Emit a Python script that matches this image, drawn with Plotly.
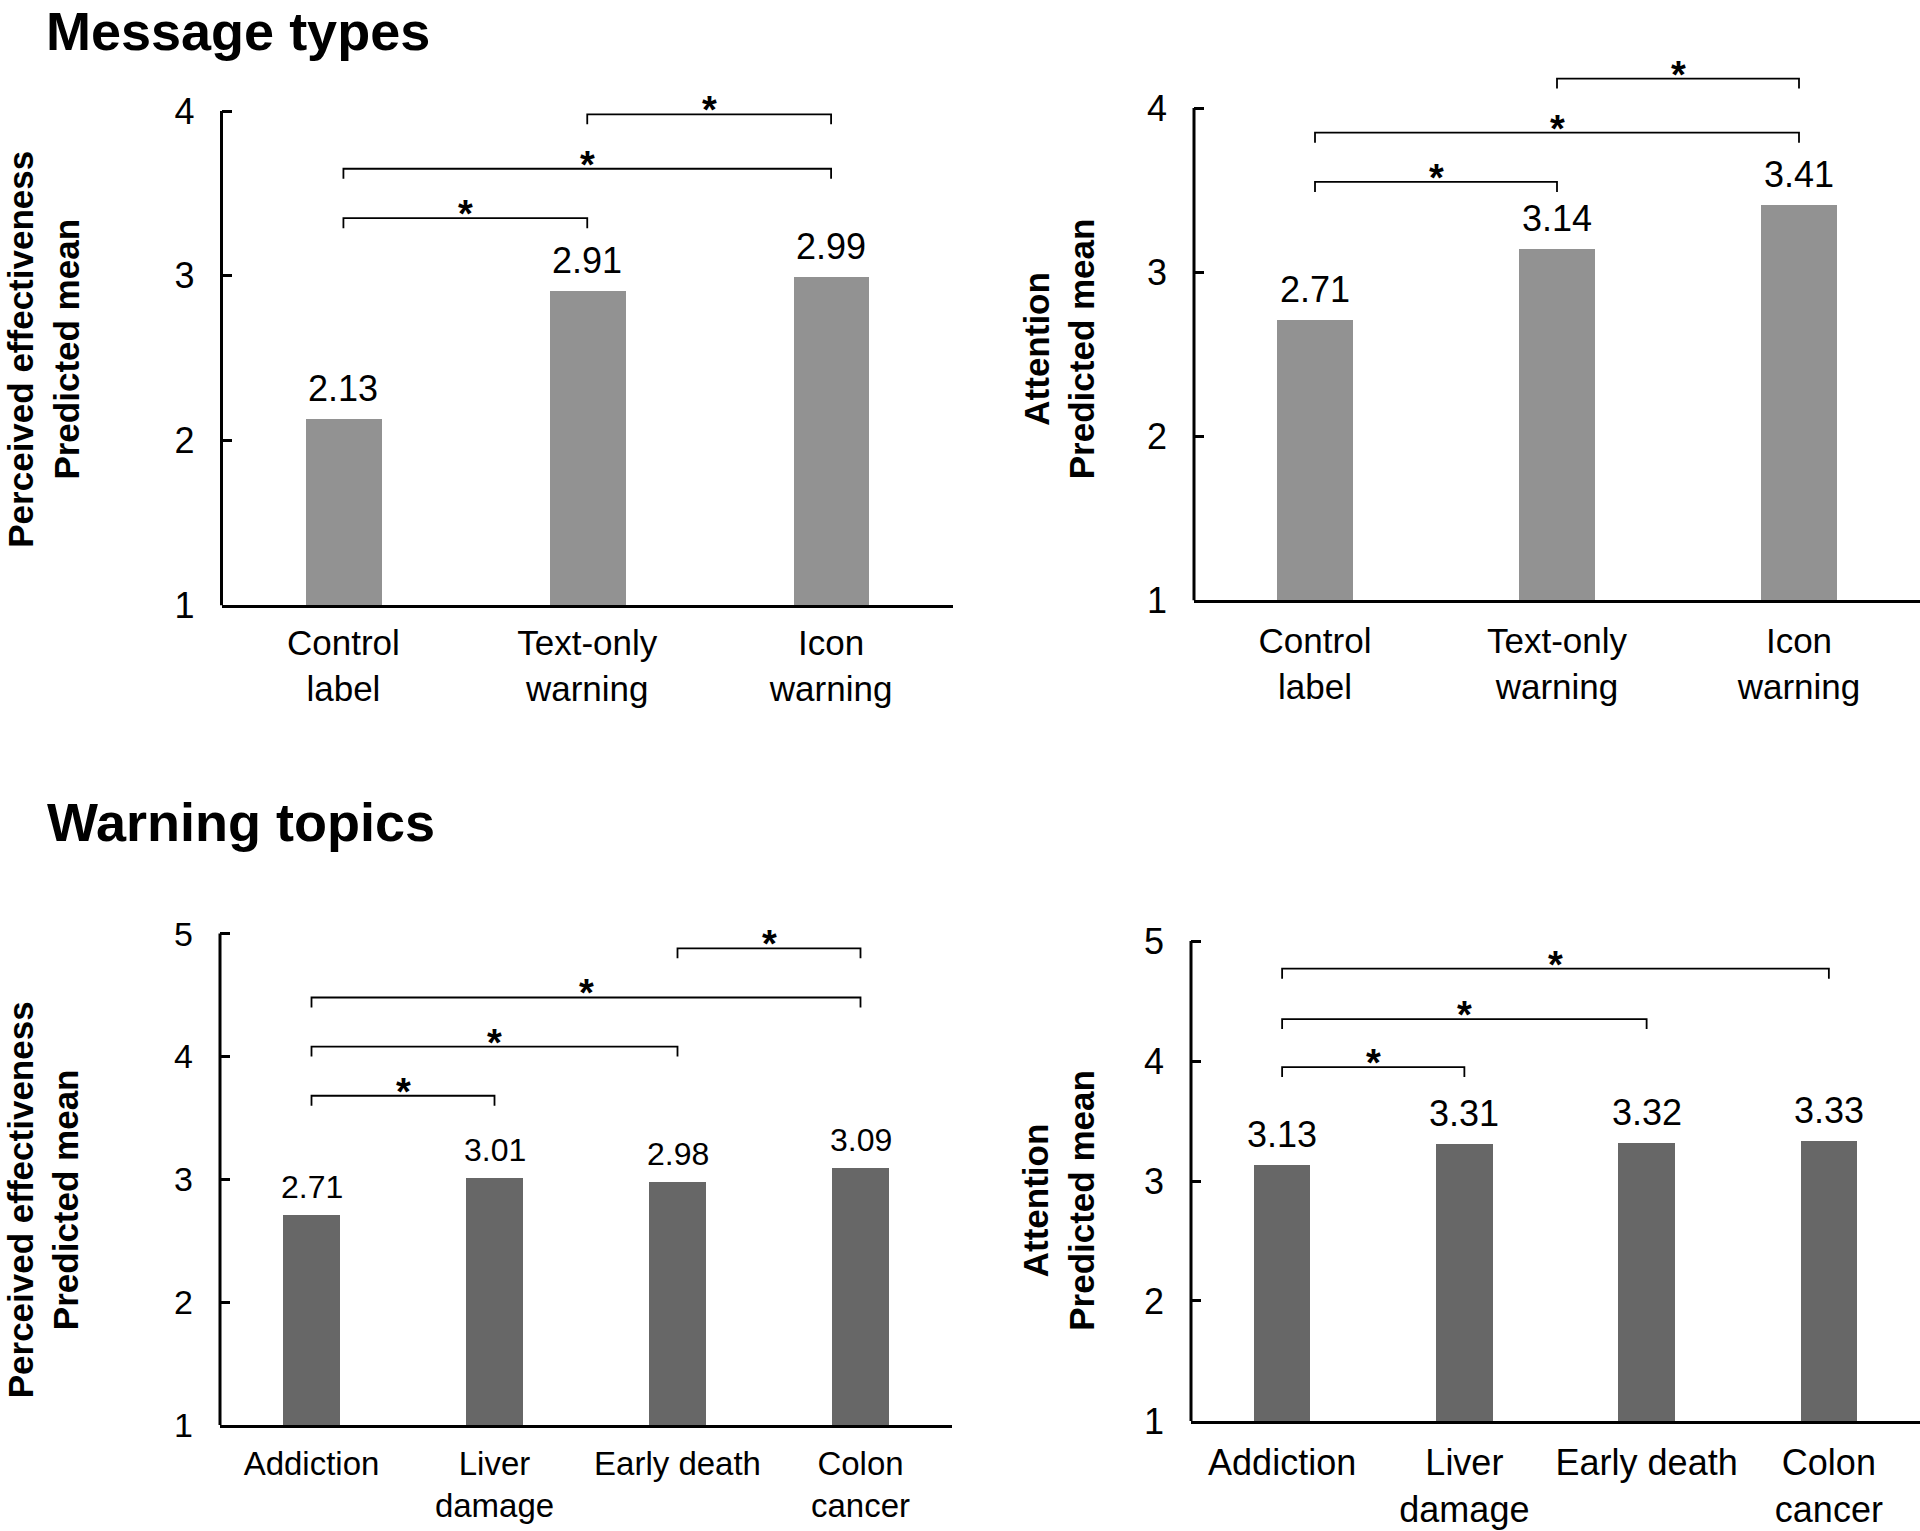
import plotly.graph_objects as go

W, H = 1920, 1531          # target picture size (fractions are computed against this)
FIG_H = 1553               # layout height compensating the vertical squeeze observed
FONT = "Liberation Sans, Arial, sans-serif"

# ---------------- data ----------------
msg_categories = ["Control<br>label", "Text-only<br>warning", "Icon<br>warning"]
topic_categories = ["Addiction", "Liver<br>damage", "Early death", "Colon<br>cancer"]

msg_effect = [2.13, 2.91, 2.99]
msg_attention = [2.71, 3.14, 3.41]
topic_effect = [2.71, 3.01, 2.98, 3.09]
topic_attention = [3.13, 3.31, 3.32, 3.33]

msg_yticks = [1, 2, 3, 4]
topic_yticks = [1, 2, 3, 4, 5]

# significance brackets: (from category index, to category index, bracket height)
msg_effect_sig = [(0, 1, 3.35), (0, 2, 3.65), (1, 2, 3.98)]
msg_attention_sig = [(0, 1, 3.55), (0, 2, 3.85), (1, 2, 4.18)]
topic_effect_sig = [(0, 1, 3.68), (0, 2, 4.08), (0, 3, 4.48), (2, 3, 4.88)]
topic_attention_sig = [(0, 1, 3.95), (0, 2, 4.35), (0, 3, 4.77)]

section_titles = ["Message types", "Warning topics"]
effect_title = "Perceived effectiveness<br>Predicted mean"
attention_title = "Attention<br>Predicted mean"

# ---------------- layout of panels (pixel geometry) ----------------
panels = [
    dict(cats=msg_categories, vals=msg_effect, sig=msg_effect_sig, ticks=msg_yticks,
         color="#929292", x0=221.5, x1=953, ylo=605, ytop=111, rhi=4.4,
         title=effect_title, tx=43.5, ty=349, fs_cat=35, fs_val=36, fs_tick=36, so=5),
    dict(cats=msg_categories, vals=msg_attention, sig=msg_attention_sig, ticks=msg_yticks,
         color="#929292", x0=1194, x1=1920, ylo=600, ytop=108, rhi=4.45,
         title=attention_title, tx=1059, ty=349, fs_cat=35, fs_val=36, fs_tick=36, so=8),
    dict(cats=topic_categories, vals=topic_effect, sig=topic_effect_sig, ticks=topic_yticks,
         color="#676767", x0=220, x1=952, ylo=1424, ytop=933, rhi=5.2,
         title=effect_title, tx=43.5, ty=1199, fs_cat=33, fs_val=32, fs_tick=34, so=7),
    dict(cats=topic_categories, vals=topic_attention, sig=topic_attention_sig, ticks=topic_yticks,
         color="#676767", x0=1191, x1=1920, ylo=1420, ytop=940.5, rhi=5.2,
         title=attention_title, tx=1059, ty=1200, fs_cat=36, fs_val=36, fs_tick=36, so=8),
]

fig = go.Figure()
annotations = []
shapes = []
layout_axes = {}

for k, p in enumerate(panels, start=1):
    xa = "x" if k == 1 else f"x{k}"
    ya = "y" if k == 1 else f"y{k}"
    n = len(p["cats"])
    idx = list(range(n))
    lo, hi_tick = p["ticks"][0], p["ticks"][-1]
    unit = (p["ylo"] - p["ytop"]) / (hi_tick - lo)
    top_px = p["ylo"] - (p["rhi"] - lo) * unit
    ydom = [1 - p["ylo"] / H, 1 - top_px / H]
    xdom = [p["x0"] / W, min(1.0, p["x1"] / W)]
    drop = 10 / unit

    fig.add_trace(go.Bar(x=idx, y=p["vals"], width=0.31, marker_color=p["color"],
                         marker_line_width=0, xaxis=xa, yaxis=ya, hoverinfo="skip"))

    for (i, j, h) in p["sig"]:
        fig.add_trace(go.Scatter(x=[i, i, j, j], y=[h - drop, h, h, h - drop], mode="lines",
                                 line=dict(color="black", width=1.8), xaxis=xa, yaxis=ya,
                                 cliponaxis=False, hoverinfo="skip"))
        annotations.append(dict(x=(i + j) / 2, y=h, xref=xa, yref=ya, text="*",
                                showarrow=False, yanchor="middle", yshift=4,
                                font=dict(family=FONT, size=38, color="black", weight="bold")))

    for i, v in zip(idx, p["vals"]):
        annotations.append(dict(x=i, y=v, xref=xa, yref=ya, text=f"{v:.2f}",
                                showarrow=False, yanchor="bottom", yshift=8,
                                font=dict(family=FONT, size=p["fs_val"], color="black")))

    # y-axis line from lowest to highest tick
    shapes.append(dict(type="line", xref=f"{xa} domain", yref=ya, x0=0, x1=0,
                       y0=lo, y1=hi_tick, line=dict(color="black", width=3)))

    annotations.append(dict(x=p["tx"] / W, y=1 - p["ty"] / H, xref="paper", yref="paper",
                            text=p["title"], textangle=-90, showarrow=False,
                            xanchor="center", yanchor="middle",
                            font=dict(family=FONT, size=35, color="black", weight="bold")))

    xkey = "xaxis" if k == 1 else f"xaxis{k}"
    ykey = "yaxis" if k == 1 else f"yaxis{k}"
    layout_axes[xkey] = dict(domain=xdom, anchor=ya, range=[-0.5, n - 0.5],
                             tickvals=idx, ticktext=p["cats"], showgrid=False, zeroline=False,
                             showline=True, linecolor="black", linewidth=3, ticks="",
                             ticklabelstandoff=p["so"],
                             tickfont=dict(family=FONT, size=p["fs_cat"], color="black"),
                             fixedrange=True)
    layout_axes[ykey] = dict(domain=ydom, anchor=xa, range=[lo, p["rhi"]],
                             tickvals=p["ticks"], ticktext=[str(t) for t in p["ticks"]],
                             showgrid=False, zeroline=False, showline=False,
                             ticks="inside", ticklen=10, tickwidth=2.5, tickcolor="black",
                             ticklabelstandoff=26,
                             tickfont=dict(family=FONT, size=p["fs_tick"], color="black"),
                             fixedrange=True)

annotations.append(dict(x=45 / W, y=1, xref="paper", yref="paper", text=section_titles[0],
                        showarrow=False, xanchor="left", yanchor="top", borderpad=0,
                        font=dict(family=FONT, size=54, color="black", weight="bold")))
annotations.append(dict(x=45 / W, y=1 - 821 / H, xref="paper", yref="paper",
                        text=section_titles[1], showarrow=False, xanchor="left",
                        yanchor="middle",
                        font=dict(family=FONT, size=54, color="black", weight="bold")))

fig.update_layout(width=W, height=FIG_H, margin=dict(l=0, r=0, t=0, b=0), autosize=False,
                  paper_bgcolor="white", plot_bgcolor="white", showlegend=False,
                  bargap=0, annotations=annotations, shapes=shapes, **layout_axes)

fig.write_html("out.html", config={"displayModeBar": False},
               post_script="document.body.style.margin='0';document.body.style.padding='0';"
                           "document.documentElement.style.overflow='hidden';")
